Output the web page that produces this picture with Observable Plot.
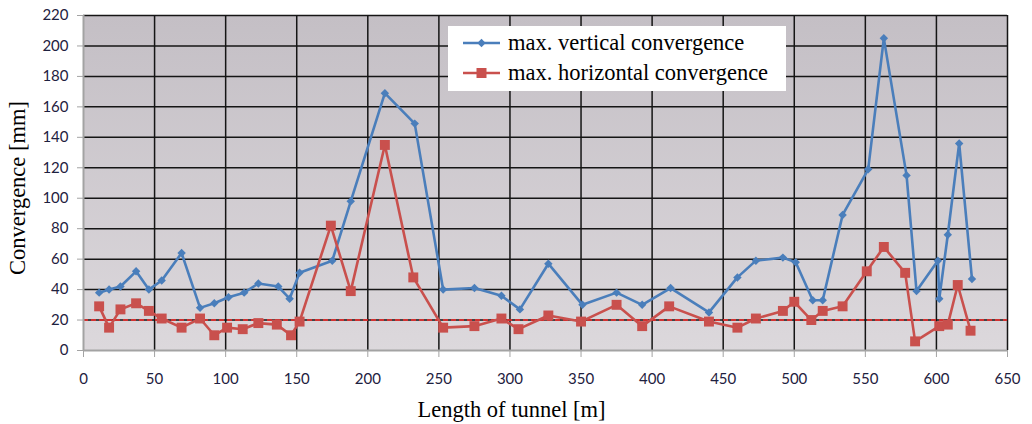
<!DOCTYPE html>
<html>
<head>
<meta charset="utf-8">
<script src="https://cdn.jsdelivr.net/npm/d3@7"></script>
<script src="https://cdn.jsdelivr.net/npm/@observablehq/plot@0.6"></script>
<style>
  body { margin: 0; background: #fff; }
  #wrap { position: relative; width: 1032px; height: 424px; }
  #legend {
    position: absolute; left: 448px; top: 26px; width: 338px; height: 65px;
    background: #fff; font-family: "Liberation Serif", "Times New Roman", serif;
    font-size: 22.5px; color: #000;
  }
  #legend .row { position: absolute; left: 0; height: 30px; width: 100%; }
  #legend svg { position: absolute; left: 12px; top: 0; }
  #legend span { position: absolute; left: 60px; white-space: nowrap; line-height: 1; }
</style>
</head>
<body>
<div id="wrap">
  <div id="chart"></div>
  <div id="legend"></div>
</div>
<script>
// Chainage along the tunnel [m] and measured maximum convergence [mm]
const verticalDistance = [11, 18, 26, 37, 46, 55, 69, 82, 92, 102, 113, 123, 137, 145, 152, 175, 188, 212, 233,
  253, 275, 294, 307, 327, 351, 375, 393, 413, 440, 460, 473, 492, 501, 513, 520, 534, 552, 563, 579, 586,
  601, 602, 608, 616, 625];
const verticalConvergence = [38, 40, 42, 52, 40, 46, 64, 28, 31, 35, 38, 44, 42, 34, 51, 59, 98, 169, 149,
  40, 41, 36, 27, 57, 30, 38, 30, 41, 25, 48, 59, 61, 58, 33, 33, 89, 119, 205, 115, 39,
  59, 34, 76, 136, 47];

const horizontalDistance = [11, 18, 26, 37, 46, 55, 69, 82, 92, 101, 112, 123, 136, 146, 152, 174, 188, 212, 232,
  253, 275, 294, 306, 327, 350, 375, 393, 412, 440, 460, 473, 492, 500, 512, 520, 534, 551, 563, 578, 585,
  602, 608, 615, 624];
const horizontalConvergence = [29, 15, 27, 31, 26, 21, 15, 21, 10, 15, 14, 18, 17, 10, 19, 82, 39, 135, 48,
  15, 16, 21, 14, 23, 19, 30, 16, 29, 19, 15, 21, 26, 32, 20, 26, 29, 52, 68, 51, 6,
  16, 17, 43, 13];

const seriesNames = ["max. vertical convergence", "max. horizontal convergence"];
const xTicks = [0, 50, 100, 150, 200, 250, 300, 350, 400, 450, 500, 550, 600, 650];
const yTicks = [0, 20, 40, 60, 80, 100, 120, 140, 160, 180, 200, 220];
const limitValue = [20];
const xTitle = "Length of tunnel [m]";
const yTitle = "Convergence [mm]";

const blue = "#4a7ebb";
const red = "#c9504d";
const tickColor = "#1e2140";
const axisGrey = "#a3a3a3";
const serif = "'Liberation Serif', 'Times New Roman', serif";

const vertical = verticalDistance.map((x, i) => ({x, y: verticalConvergence[i]}));
const horizontal = horizontalDistance.map((x, i) => ({x, y: horizontalConvergence[i]}));

// gradient fill for the plotting area
const backgroundDefs = () => {
  const defs = d3.create("svg:defs");
  const g = defs.append("linearGradient").attr("id", "plotBg")
    .attr("x1", 0).attr("x2", 0).attr("y1", 0).attr("y2", 1);
  g.append("stop").attr("offset", "0%").attr("stop-color", "#c4bfc5");
  g.append("stop").attr("offset", "100%").attr("stop-color", "#dcd8dc");
  return defs.node();
};

const chart = Plot.plot({
  width: 1032,
  height: 424,
  marginLeft: 83,
  marginRight: 25,
  marginTop: 15,
  marginBottom: 74,
  x: {domain: [0, 650]},
  y: {domain: [0, 220]},
  style: {background: "transparent", fontFamily: "Lato, 'Open Sans', sans-serif", fontSize: "15px", overflow: "visible"},
  marks: [
    backgroundDefs,
    Plot.frame({fill: "url(#plotBg)", stroke: null}),
    Plot.gridY(yTicks.filter(t => t > 0), {stroke: "#151515", strokeOpacity: 1, strokeWidth: 1.5}),
    Plot.gridX(xTicks.filter(t => t > 0), {stroke: "#151515", strokeOpacity: 1, strokeWidth: 1.5}),
    Plot.ruleY(limitValue, {stroke: "#ff2b2b", strokeWidth: 1.6, strokeDasharray: "5,3"}),
    Plot.ruleX([0], {stroke: axisGrey, strokeWidth: 2}),
    Plot.ruleY([0], {stroke: axisGrey, strokeWidth: 2}),
    Plot.axisY(yTicks, {tickSize: 6, tickPadding: 9, stroke: axisGrey, fill: tickColor, label: null, fontSize: 15}),
    Plot.axisX(xTicks, {tickSize: 7, tickPadding: 16, stroke: axisGrey, fill: tickColor, label: null, fontSize: 15}),
    Plot.line(vertical, {x: "x", y: "y", stroke: blue, strokeWidth: 2.6}),
    Plot.dot(vertical, {x: "x", y: "y", symbol: "diamond2", r: 3.8, fill: blue, stroke: null}),
    Plot.line(horizontal, {x: "x", y: "y", stroke: red, strokeWidth: 2.6}),
    Plot.dot(horizontal, {x: "x", y: "y", symbol: "square", r: 5.6, fill: red, stroke: null}),
    Plot.text([xTitle], {text: d => d, frameAnchor: "bottom", textAnchor: "middle", lineAnchor: "middle",
      dx: -34, dy: 59, fontFamily: serif, fontSize: 22.5, fill: "#000"}),
    Plot.text([yTitle], {text: d => d, frameAnchor: "left", textAnchor: "middle", lineAnchor: "middle",
      rotate: -90, dx: -66, dy: 5, fontFamily: serif, fontSize: 22.5, fill: "#000"})
  ]
});
document.getElementById("chart").appendChild(chart);

// legend box inside the plotting area
const legend = d3.select("#legend");
const legendItems = [
  {name: seriesNames[0], color: blue, symbol: d3.symbolDiamond2, size: 45, top: 3},
  {name: seriesNames[1], color: red, symbol: d3.symbolSquare, size: 100, top: 33}
];
for (const item of legendItems) {
  const row = legend.append("div").attr("class", "row").style("top", item.top + "px");
  const svg = row.append("svg").attr("width", 44).attr("height", 28);
  svg.append("line").attr("x1", 3).attr("x2", 40).attr("y1", 14).attr("y2", 14)
    .attr("stroke", item.color).attr("stroke-width", 2.6);
  svg.append("path").attr("transform", "translate(21.5,14)")
    .attr("d", d3.symbol(item.symbol, item.size)()).attr("fill", item.color);
  row.append("span").style("top", "3px").text(item.name);
}
</script>
</body>
</html>
